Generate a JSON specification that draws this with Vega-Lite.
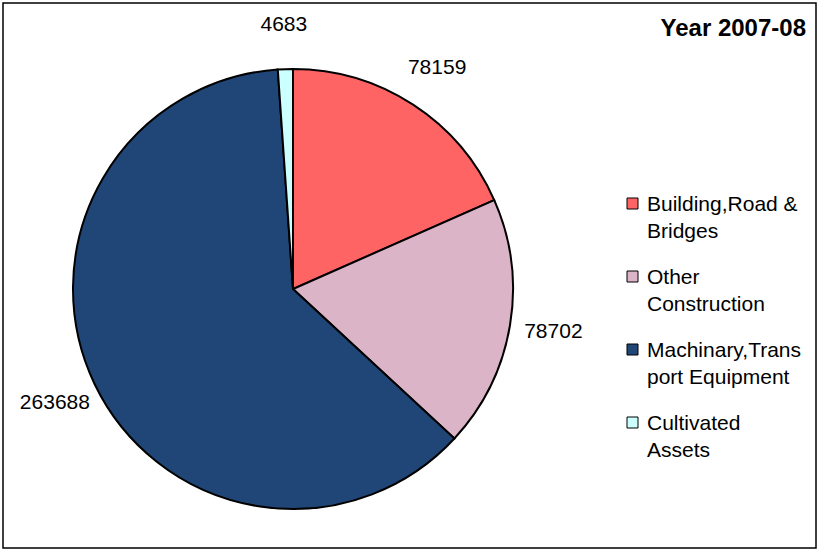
{
  "$schema": "https://vega.github.io/schema/vega-lite/v6.json",
  "width": 813,
  "height": 545,
  "padding": 3,
  "autosize": {"type": "none"},
  "background": "white",
  "config": {
    "view": {"stroke": "black", "strokeWidth": 1.5},
    "font": "Liberation Sans"
  },
  "title": {
    "text": "Year 2007-08",
    "anchor": "end",
    "orient": "top",
    "offset": -60,
    "baseline": "alphabetic",
    "dx": -10,
    "fontSize": 24,
    "fontWeight": "bold",
    "font": "Liberation Sans",
    "color": "black"
  },
  "data": {
    "values": [
      {"category": "Building,Road & Bridges", "value": 78159, "order": 1},
      {"category": "Other Construction", "value": 78702, "order": 2},
      {"category": "Machinary,Transport Equipment", "value": 263688, "order": 3},
      {"category": "Cultivated Assets", "value": 4683, "order": 4}
    ]
  },
  "layer": [
    {
      "mark": {"type": "point", "opacity": 0},
      "encoding": {
        "x": {"datum": 0, "type": "quantitative", "axis": null},
        "y": {"datum": 0, "type": "quantitative", "axis": null}
      }
    },
    {
      "mark": {"type": "arc", "x": 290, "y": 286, "outerRadius": 220, "stroke": "black", "strokeWidth": 2},
      "encoding": {
        "theta": {"field": "value", "type": "quantitative", "stack": true},
        "order": {"field": "order", "type": "quantitative"},
        "color": {
          "field": "category",
          "type": "nominal",
          "sort": ["Building,Road & Bridges", "Other Construction", "Machinary,Transport Equipment", "Cultivated Assets"],
          "scale": {
            "domain": ["Building,Road & Bridges", "Other Construction", "Machinary,Transport Equipment", "Cultivated Assets"],
            "range": ["#ff6464", "#dcb4c8", "#1f4676", "#ccffff"]
          },
          "legend": {
            "orient": "none",
            "legendX": 619,
            "legendY": 190,
            "title": null,
            "symbolType": "square",
            "symbolSize": 121,
            "symbolStrokeColor": "black",
            "symbolStrokeWidth": 1,
            "symbolOpacity": 1,
            "labelFontSize": 21,
            "labelFont": "Liberation Sans",
            "labelColor": "black",
            "labelOffset": 4,
            "labelLimit": 300,
            "labelBaseline": "top",
            "rowPadding": 24,
            "labelExpr": "datum.label == 'Building,Road & Bridges' ? ['Building,Road &', 'Bridges'] : datum.label == 'Other Construction' ? ['Other', 'Construction'] : datum.label == 'Machinary,Transport Equipment' ? ['Machinary,Trans', 'port Equipment'] : ['Cultivated', 'Assets']",
            "encode": {"labels": {"update": {"lineHeight": {"value": 27}, "dy": {"value": -10}}}}
          }
        }
      }
    },
    {
      "mark": {"type": "text", "x": 290, "y": 286, "radius": 264, "fontSize": 21, "font": "Liberation Sans", "color": "black", "baseline": "middle", "align": "center"},
      "encoding": {
        "theta": {"field": "value", "type": "quantitative", "stack": true},
        "order": {"field": "order", "type": "quantitative"},
        "text": {"field": "value", "type": "quantitative", "format": "d"}
      }
    }
  ]
}
